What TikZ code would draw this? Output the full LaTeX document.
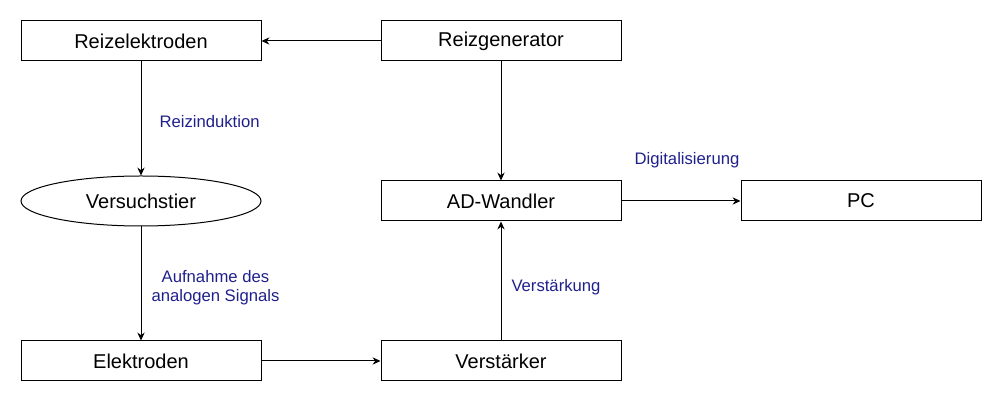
\documentclass[tikz,border=0pt]{standalone}
\usepackage{fontspec}
\setmainfont{Liberation Sans}
\usetikzlibrary{positioning,shapes.geometric,arrows.meta}
\definecolor{labelblue}{RGB}{32,32,140}
\tikzset{
  block/.style={draw, line width=0.75pt, minimum width=180pt, minimum height=30pt,
    inner sep=0pt, font=\fontsize{15}{18}\selectfont},
  tier/.style={block, ellipse, minimum height=37.5pt},
  lbl/.style={text=labelblue, inner sep=0pt, align=center,
    font=\fontsize{12.5}{14.25}\selectfont},
  pfeil/.style={line width=0.75pt, -{Stealth[length=6pt,width=5.5pt,inset=2pt]}}
}
\begin{document}
\begin{tikzpicture}[on grid, node distance=120pt and 270pt]
\useasboundingbox (0,0) rectangle (750.75pt,-301.5pt);
\node(RE)       [block] at (105.75pt,-30.75pt) {Reizelektroden};
\node(RG)       [block, right=of RE]            {Reizgenerator};
\node(VT)       [tier, below=of RE]             {Versuchstier};
\node(AD)       [block, below=of RG]            {AD-Wandler};
\node(PC)       [block, right=of AD]            {PC};
\node(EL)       [block, below=of VT]            {Elektroden};
\node(VS)       [block, below=of AD]            {Verstärker};

\draw[pfeil](RG)    -- (RE);
\draw[pfeil](RE)    -- node[lbl, anchor=west, xshift=13.5pt, yshift=-2.6pt] {Reizinduktion} (VT);
\draw[pfeil](VT)    -- node[lbl, anchor=west, xshift=7.5pt, yshift=-3.4pt] {Aufnahme des\\analogen Signals} (EL);
\draw[pfeil](EL)    -- (VS);
\draw[pfeil](VS)    -- node[lbl, anchor=west, xshift=7.5pt, yshift=-5pt] {Verstärkung} (AD);
\draw[pfeil](RG)    -- (AD);
\draw[pfeil](AD)    -- node[lbl, xshift=4.5pt, yshift=30.4pt] {Digitalisierung} (PC);
\end{tikzpicture}
\end{document}
